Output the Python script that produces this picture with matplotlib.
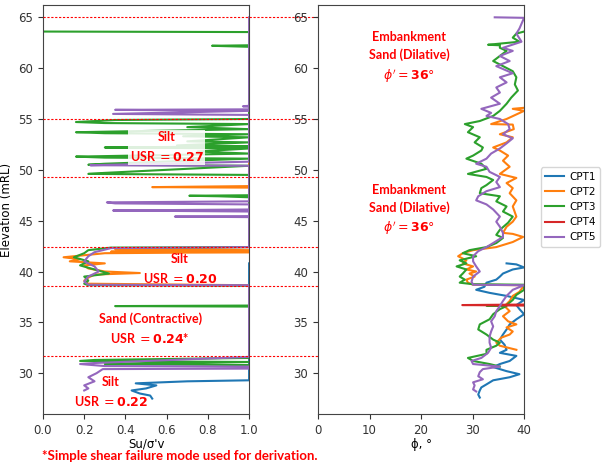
import numpy as np
import matplotlib.pyplot as plt

# CPT profiles: Su/sigma'v (left) and friction angle (right) against elevation
cpt1_usr_z = [40.8, 29.3, 29.2, 29.0, 28.8, 28.5, 28.3, 28.0, 27.8, 27.5]
cpt1_usr = [1.0, 1.0, 0.70, 0.45, 0.55, 0.50, 0.43, 0.47, 0.52, 0.53]

cpt2_usr_z = [56.1, 48.4, 48.3, 48.25, 42.4, 42.2, 42.1, 41.95, 41.9, 41.8, 41.6, 41.4,
              41.2, 41.0, 40.8, 40.6, 40.3, 40.0, 39.85, 39.7, 39.4, 39.1, 38.8, 38.65, 32.3]
cpt2_usr = [1.0, 1.0, 0.53, 1.0, 1.0, 0.35, 1.0, 0.33, 1.0, 0.30, 0.20, 0.10,
            0.18, 0.13, 0.30, 0.20, 0.22, 0.30, 0.47, 0.25, 0.22, 0.20, 0.22, 1.0, 1.0]

cpt3_usr_z = [63.6, 63.55, 62.25, 62.2, 62.1, 55.0, 54.9, 54.7, 54.6, 54.5, 54.2, 54.0,
              53.7, 53.6, 53.5, 53.3, 53.2, 52.8, 52.7, 52.4, 52.3, 52.2, 52.1, 51.8,
              51.6, 51.3, 51.2, 51.1, 50.6, 50.5, 50.4, 49.7, 49.6, 49.5, 47.5, 47.45,
              47.4, 47.3, 42.4, 42.35, 42.1, 41.8, 41.4, 41.0, 40.6, 40.2, 39.8, 39.5,
              39.1, 38.8, 38.65, 38.6, 36.65, 36.6, 36.55, 31.5, 31.3, 31.2, 31.1, 30.9,
              30.8, 30.6]
cpt3_usr = [0.0, 1.0, 1.0, 0.82, 1.0, 1.0, 0.35, 0.16, 0.30, 1.0, 0.70, 1.0,
            0.16, 0.30, 1.0, 0.68, 1.0, 0.70, 1.0, 0.65, 1.0, 0.30, 1.0, 0.75,
            1.0, 0.16, 0.30, 1.0, 0.30, 0.22, 1.0, 0.30, 0.22, 1.0, 1.0, 0.71,
            0.85, 1.0, 1.0, 0.33, 0.22, 0.20, 0.15, 0.22, 0.18, 0.25, 0.32, 0.20,
            0.22, 0.20, 0.22, 1.0, 1.0, 0.35, 1.0, 1.0, 0.25, 0.18, 1.0, 0.30,
            1.0, 1.0]

cpt4_usr_z = [36.75, 36.65]
cpt4_usr = [1.0, 1.0]

cpt5_usr_z = [65.0, 56.3, 56.25, 56.2, 55.95, 55.9, 55.8, 55.5, 55.4, 50.8, 50.6, 50.45,
              50.4, 46.9, 46.8, 46.7, 46.6, 46.1, 46.0, 45.9, 45.45, 45.4, 45.35, 42.4,
              42.3, 41.9, 41.5, 41.0, 40.5, 40.0, 39.5, 39.0, 38.7, 38.65, 31.6, 31.0,
              30.9, 30.7, 30.65, 30.45, 30.4, 30.0, 29.6, 29.2, 28.8, 28.5, 28.3]
cpt5_usr = [1.0, 1.0, 0.97, 1.0, 1.0, 0.35, 1.0, 0.34, 1.0, 1.0, 0.55, 0.23,
            1.0, 1.0, 0.31, 0.35, 1.0, 1.0, 0.34, 1.0, 1.0, 0.64, 1.0, 1.0,
            0.33, 0.25, 0.22, 0.20, 0.25, 0.27, 0.22, 0.20, 0.22, 1.0, 1.0, 0.25,
            0.18, 0.30, 1.0, 1.0, 0.29, 0.26, 0.22, 0.25, 0.20, 0.22, 0.20]

cpt1_phi_z = [40.8, 40.7, 40.4, 40.2, 39.8, 39.5, 39.2, 38.9, 38.5, 38.2, 37.9, 37.6,
              37.2, 36.7, 36.3, 35.8, 35.3, 34.8, 34.3, 33.8, 33.3, 32.8, 32.3, 32.0,
              31.7, 31.2, 30.9, 30.6, 30.2, 29.9, 29.6, 29.3, 28.9, 28.6, 28.3, 27.9, 27.6]
cpt1_phi = [36.6, 38.5, 40.0, 37.8, 35.9, 35.3, 34.6, 32.7, 32.3, 30.7, 33.3, 36.6,
            40.0, 38.5, 39.1, 40.0, 38.5, 37.2, 36.6, 35.9, 35.3, 36.2, 36.6, 35.3,
            38.5, 37.2, 35.3, 34.0, 36.6, 39.1, 37.2, 34.0, 32.7, 31.7, 31.4, 31.1, 31.4]

cpt2_phi_z = [56.1, 56.0, 55.8, 55.0, 54.5, 54.45, 54.0, 53.5, 53.2, 52.7, 52.2, 51.9,
              51.4, 50.9, 50.3, 49.6, 49.2, 48.7, 48.2, 47.7, 47.0, 46.4, 45.4, 44.9,
              44.4, 43.8, 43.7, 43.4, 42.9, 42.4, 42.1, 41.8, 41.5, 41.1, 40.8, 40.5,
              40.2, 40.0, 39.8, 39.5, 39.2, 38.9, 38.7, 38.65, 38.0, 37.6, 37.1, 36.6,
              36.1, 35.6, 35.1, 34.8, 34.5, 34.1, 33.8, 33.5, 33.0, 32.7, 32.3]
cpt2_phi = [40.0, 37.8, 40.0, 36.6, 33.6, 37.8, 38.0, 35.3, 37.8, 36.6, 34.0, 35.3,
            36.9, 35.9, 37.2, 35.3, 38.5, 36.6, 37.8, 37.2, 38.5, 37.8, 38.5, 37.8,
            36.6, 35.9, 37.8, 39.8, 37.8, 34.6, 30.1, 28.1, 27.2, 28.8, 28.1, 30.1,
            28.8, 30.7, 29.4, 30.4, 28.8, 29.1, 30.1, 40.0, 39.1, 37.8, 37.2, 36.2,
            37.2, 35.9, 36.9, 38.5, 36.6, 37.8, 37.2, 35.6, 34.6, 35.3, 38.5]

cpt3_phi_z = [63.6, 63.4, 63.0, 62.6, 62.3, 62.25, 62.0, 61.7, 61.2, 60.7, 60.2, 59.7,
              59.1, 58.4, 57.8, 57.1, 56.5, 55.8, 55.3, 54.8, 54.5, 54.2, 53.7, 53.2,
              52.7, 52.2, 51.9, 51.4, 51.1, 50.6, 50.1, 49.6, 49.3, 49.0, 48.5, 48.2,
              47.7, 47.4, 46.9, 46.4, 45.9, 45.4, 44.8, 44.1, 43.6, 43.3, 42.8, 42.4,
              42.1, 41.8, 41.5, 41.1, 40.8, 40.5, 40.2, 39.8, 39.5, 39.2, 38.9, 38.75,
              38.7, 38.2, 37.7, 37.2, 36.7, 36.65, 36.6, 36.3, 35.8, 35.3, 34.8, 34.3,
              33.8, 33.3, 33.0, 32.7, 32.3, 31.9, 31.5, 31.2, 30.9, 30.65]
cpt3_phi = [40.0, 38.5, 37.8, 39.1, 33.0, 35.3, 35.3, 36.6, 35.3, 34.0, 35.9, 37.8,
            38.5, 38.2, 38.8, 37.5, 36.6, 35.3, 34.0, 31.4, 28.5, 30.1, 29.1, 31.4,
            30.4, 32.0, 31.7, 30.1, 28.8, 31.7, 32.7, 29.1, 32.7, 34.0, 32.7, 31.7,
            31.4, 35.3, 34.6, 36.6, 35.9, 37.8, 36.9, 35.3, 34.6, 35.9, 34.6, 32.7,
            29.4, 28.1, 30.7, 27.5, 28.8, 26.9, 28.8, 28.1, 27.5, 28.5, 27.5, 30.1,
            40.0, 40.0, 38.5, 37.8, 36.6, 32.7, 36.6, 35.3, 34.0, 33.3, 31.4, 31.1,
            32.7, 34.0, 35.3, 34.6, 32.7, 32.7, 29.1, 30.1, 33.3, 35.3]

cpt4_phi_z = [36.75, 36.7, 36.65]
cpt4_phi = [40.0, 28.0, 40.0]

cpt5_phi_z = [65.0, 64.95, 63.9, 63.4, 62.6, 62.0, 61.7, 61.2, 60.7, 60.2, 59.5, 59.1,
              58.6, 58.1, 57.6, 57.1, 56.5, 56.0, 55.6, 55.3, 55.0, 54.5, 54.0, 53.5,
              53.1, 52.6, 52.1, 51.6, 51.1, 50.6, 50.3, 49.8, 49.3, 48.8, 48.3, 47.9,
              47.4, 47.0, 46.6, 46.1, 45.4, 44.9, 44.4, 43.8, 43.4, 42.8, 42.4, 42.0,
              41.5, 41.0, 40.5, 40.0, 39.5, 39.0, 38.7, 38.65, 38.2, 37.6, 37.1, 36.6,
              36.1, 35.6, 35.1, 34.6, 34.1, 33.6, 33.0, 32.5, 32.0, 31.5, 31.2, 30.9,
              30.65, 30.4, 30.1, 29.7, 29.4, 29.1, 28.8, 28.4, 28.2]
cpt5_phi = [34.3, 40.0, 39.1, 38.5, 39.5, 35.9, 37.8, 35.3, 37.2, 34.6, 37.8, 35.3,
            36.6, 34.6, 35.3, 33.6, 35.3, 31.7, 33.6, 32.7, 35.3, 36.9, 37.2, 35.9,
            37.8, 36.6, 35.3, 33.6, 32.7, 30.7, 32.7, 33.3, 35.3, 34.6, 35.3, 32.7,
            31.1, 30.7, 32.7, 34.0, 35.3, 34.6, 35.3, 35.9, 35.9, 34.0, 32.7, 31.1,
            30.1, 30.1, 30.7, 31.4, 30.1, 29.8, 30.1, 40.0, 37.8, 36.6, 35.9, 35.3,
            34.6, 34.3, 33.6, 34.0, 33.6, 33.3, 33.3, 33.6, 33.0, 31.7, 29.8, 30.1,
            35.3, 32.0, 31.4, 31.1, 32.0, 30.1, 30.4, 30.1, 30.7]

names = ['CPT1', 'CPT2', 'CPT3', 'CPT4', 'CPT5']
colors = ['tab:blue', 'tab:orange', 'tab:green', 'tab:red', 'tab:purple']
usr_data = [(cpt1_usr, cpt1_usr_z), (cpt2_usr, cpt2_usr_z), (cpt3_usr, cpt3_usr_z),
            (cpt4_usr, cpt4_usr_z), (cpt5_usr, cpt5_usr_z)]
phi_data = [(cpt1_phi, cpt1_phi_z), (cpt2_phi, cpt2_phi_z), (cpt3_phi, cpt3_phi_z),
            (cpt4_phi, cpt4_phi_z), (cpt5_phi, cpt5_phi_z)]

layer_bounds = [65.0, 55.0, 49.3, 42.4, 38.6, 31.7]

fig = plt.figure(figsize=(6.08, 4.65), dpi=100)
ax1 = fig.add_axes([0.0707, 0.110, 0.339, 0.879])
ax2 = fig.add_axes([0.523, 0.110, 0.339, 0.879])

for (x, z), c, n in zip(usr_data, colors, names):
    ax1.plot(x, z, color=c, lw=1.5, label=n)
for (x, z), c, n in zip(phi_data, colors, names):
    ax2.plot(x, z, color=c, lw=1.5, label=n)

# layer boundaries run across both panels
for zb in layer_bounds:
    ax1.axhline(zb, xmin=0, xmax=2.335, color='red', ls=(0, (2, 1.5)), lw=0.8,
                clip_on=False, zorder=5)

for ax in (ax1, ax2):
    ax.set_ylim(26.0, 66.2)
    ax.set_yticks([30, 35, 40, 45, 50, 55, 60, 65])
    ax.tick_params(labelsize=8.5, colors='#333333')
    for s in ax.spines.values():
        s.set_color('#444444')

ax1.set_xlim(0, 1.0)
ax1.set_xticks([0.0, 0.2, 0.4, 0.6, 0.8, 1.0])
ax2.set_xlim(0, 40)
ax2.set_xticks([0, 10, 20, 30, 40])
ax1.set_xlabel("Su/σ'v", fontsize=8.5, labelpad=1)
ax2.set_xlabel('ϕ, °', fontsize=8.5, labelpad=1)
ax1.set_ylabel('Elevation (mRL)', fontsize=8.5)

ann = dict(color='red', fontsize=9, fontweight='bold', family='Lato', ha='center',
           va='center', linespacing=1.5)
box = dict(facecolor='white', alpha=0.85, edgecolor='none', pad=1)
ax1.text(0.60, 52.2, 'Silt\nUSR $= \\mathbf{0.27}$', bbox=box, **ann)
ax1.text(0.665, 40.25, 'Silt\nUSR $= \\mathbf{0.20}$', **ann)
ax1.text(0.52, 34.4, 'Sand (Contractive)\nUSR $= \\mathbf{0.24}$*', **ann)
ax1.text(0.33, 28.1, 'Silt\nUSR $= \\mathbf{0.22}$', **ann)
ax2.text(17.7, 61.0, "Embankment\nSand (Dilative)\n$\\phi' = \\mathbf{36}°$", **ann)
ax2.text(17.7, 46.0, "Embankment\nSand (Dilative)\n$\\phi' = \\mathbf{36}°$", **ann)

fig.text(0.296, 0.019, '*Simple shear failure mode used for derivation.', color='red',
         fontsize=9.5, fontweight='bold', family='Lato', ha='center', va='center')

ax2.legend(loc='center left', bbox_to_anchor=(1.08, 0.506), fontsize=7.5, frameon=True,
           handlelength=1.8, handletextpad=0.6, borderpad=0.4, borderaxespad=0)

fig.savefig('out.png', dpi=100)
